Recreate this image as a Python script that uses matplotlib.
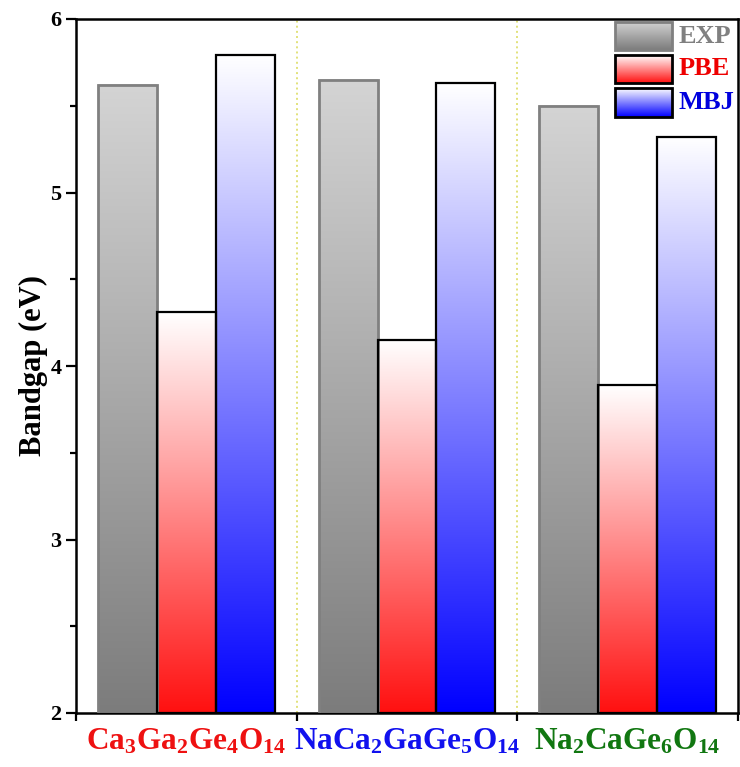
import matplotlib
matplotlib.use("Agg")
import matplotlib.pyplot as plt
import numpy as np
from matplotlib.colors import to_rgb
from matplotlib.patches import Rectangle

plt.rcParams["font.family"] = ["Liberation Serif", "DejaVu Serif"]
plt.rcParams["font.weight"] = "bold"
plt.rcParams["mathtext.fontset"] = "custom"
plt.rcParams["mathtext.rm"] = "Liberation Serif:bold"
plt.rcParams["mathtext.bf"] = "Liberation Serif:bold"

# data
compounds = [r"$\mathbf{Ca_3Ga_2Ge_4O_{14}}$",
             r"$\mathbf{NaCa_2GaGe_5O_{14}}$",
             r"$\mathbf{Na_2CaGe_6O_{14}}$"]
compound_colors = ["#ee1111", "#1111ee", "#117711"]
methods = ["EXP", "PBE", "MBJ"]
exp = [5.62, 5.65, 5.50]
pbe = [4.31, 4.15, 3.89]
mbj = [5.79, 5.63, 5.32]

# gradient styles: (top colour, bottom colour, edge colour, legend text colour)
styles = {
    "EXP": ("#d4d4d4", "#7c7c7c", "#808080", "#808080"),
    "PBE": ("#ffffff", "#ff1010", "black", "#ee0000"),
    "MBJ": ("#ffffff", "#0000ff", "black", "#0000dd"),
}


def gradient(top, bottom, n=256):
    t = np.linspace(0, 1, n)[:, None]
    c0 = np.array(to_rgb(top))
    c1 = np.array(to_rgb(bottom))
    return (c0 * (1 - t) + c1 * t)[:, None, :]


def main():
    fig = plt.figure(figsize=(7.4, 7.67), dpi=100)
    ax = fig.add_axes([76 / 740, 1 - 713 / 767, 662 / 740, 694 / 767])

    ymin = 2
    x = np.arange(len(compounds))
    width = 0.8 / 3
    series = {"EXP": exp, "PBE": pbe, "MBJ": mbj}

    for i, m in enumerate(methods):
        top, bottom, edge, _ = styles[m]
        xs = x + (i - 1) * width
        for xc, v in zip(xs, series[m]):
            ax.imshow(gradient(top, bottom), extent=[xc - width / 2, xc + width / 2, ymin, v],
                      aspect="auto", zorder=2, interpolation="bilinear")
        ax.bar(xs, np.array(series[m]) - ymin, width, bottom=ymin, fill=False,
               edgecolor=edge, linewidth=2.0 if m == "EXP" else 1.6, zorder=3)

    # dividers
    for xd in [0.5, 1.5]:
        ax.axvline(xd, color="#e2e27a", linestyle=":", linewidth=1.4, zorder=1)

    # legend drawn in axes coordinates
    rows = [(0.955, 0.996), (0.908, 0.948), (0.859, 0.900)]
    for m, (y0, y1) in zip(methods, rows):
        top, bottom, edge, tc = styles[m]
        ax.imshow(gradient(top, bottom), extent=[0.814, 0.900, y0, y1],
                  transform=ax.transAxes, aspect="auto", zorder=4,
                  interpolation="bilinear")
        ax.add_patch(Rectangle((0.814, y0), 0.086, y1 - y0, transform=ax.transAxes,
                               fill=False, edgecolor=edge, linewidth=2.0, zorder=5))
        ax.text(0.910, (y0 + y1) / 2, m, transform=ax.transAxes, color=tc,
                fontsize=19, fontweight="bold", va="center", ha="left", zorder=5)

    ax.set_xlim(-0.5, 2.5)
    ax.set_ylim(2, 6)

    # ticks
    ax.set_yticks([2, 3, 4, 5, 6])
    ax.set_yticks([2.5, 3.5, 4.5, 5.5], minor=True)
    ax.tick_params(axis="y", which="major", direction="out", length=7, width=1.6,
                   labelsize=16)
    ax.tick_params(axis="y", which="minor", direction="out", length=4, width=1.6)
    ax.set_xticks([-0.5, 0.5, 1.5, 2.5])
    ax.set_xticklabels([])
    ax.set_xticks(x, minor=True)
    ax.set_xticklabels(compounds, minor=True, fontsize=22.5)
    ax.tick_params(axis="x", which="major", direction="out", length=6, width=1.6)
    ax.tick_params(axis="x", which="minor", length=0, pad=10)
    for lbl, c in zip(ax.get_xticklabels(minor=True), compound_colors):
        lbl.set_color(c)

    for s in ax.spines.values():
        s.set_linewidth(1.8)

    ax.set_ylabel("Bandgap (eV)", fontsize=22, fontweight="bold", labelpad=2)

    fig.savefig("out.png", dpi=100)


if __name__ == "__main__":
    main()
